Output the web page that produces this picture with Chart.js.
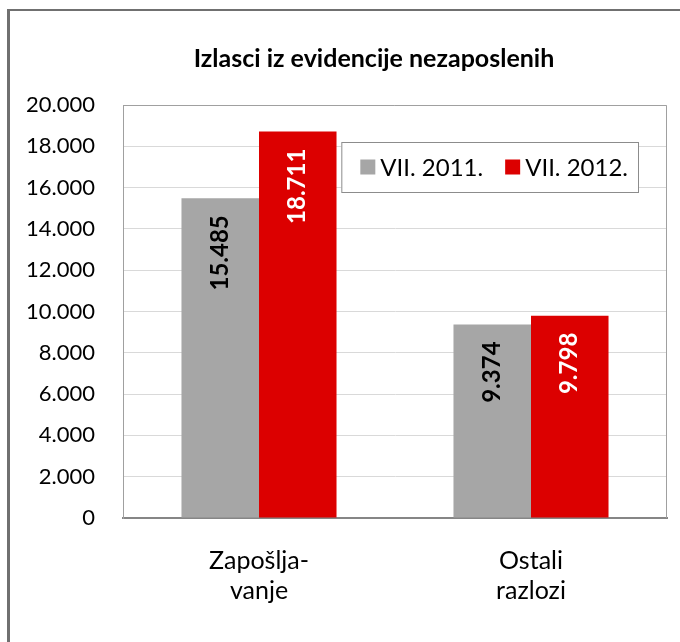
<!DOCTYPE html>
<html>
<head>
<meta charset="utf-8">
<script src="https://cdn.jsdelivr.net/npm/chart.js@4.4.1/dist/chart.umd.min.js"></script>
<style>
  html, body { margin: 0; padding: 0; background: #fff; overflow: hidden; width: 680px; height: 642px; }
  #frame {
    position: absolute; left: 7px; top: 9px;
    width: 720px; height: 700px;
    border-left: 3px solid #707070;
    border-top: 2px solid #707070;
  }
  #wrap { position: absolute; left: 10px; top: 11px; width: 670px; height: 631px; }
</style>
</head>
<body>
<div id="frame"></div>
<div id="wrap"><canvas id="chart"></canvas></div>
<script>
// ===== Data =====
const categories = [['Zapošlja-', 'vanje'], ['Ostali', 'razlozi']];
const seriesNames = ['VII. 2011.', 'VII. 2012.'];
const values2011 = [15485, 9374];
const values2012 = [18711, 9798];
const yTicks = [0, 2000, 4000, 6000, 8000, 10000, 12000, 14000, 16000, 18000, 20000];

const COLORS = ['#a6a6a6', '#dc0000'];
const LABEL_COLORS = ['#000000', '#ffffff'];
const FONT = 'Lato, "Open Sans", sans-serif';

function fmt(v) {
  return String(v).replace(/\B(?=(\d{3})+(?!\d))/g, '.');
}

// ===== Plugins =====
const titlePlugin = {
  id: 'customTitle',
  afterDraw(chart) {
    const ctx = chart.ctx;
    const a = chart.chartArea;
    ctx.save();
    ctx.font = 'bold 25px ' + FONT;
    ctx.fillStyle = '#000';
    ctx.textAlign = 'center';
    ctx.textBaseline = 'middle';
    ctx.fillText('Izlasci iz evidencije nezaposlenih', (a.left + a.right) / 2 - 21, a.top - 46);
    ctx.restore();
  }
};

// plot area outline (top + right)
const plotFrame = {
  id: 'plotFrame',
  beforeDatasetsDraw(chart) {
    const ctx = chart.ctx;
    const a = chart.chartArea;
    ctx.save();
    ctx.strokeStyle = '#a0a0a0';
    ctx.lineWidth = 1;
    ctx.beginPath();
    ctx.moveTo(a.left, a.top + 0.5);
    ctx.lineTo(a.right - 0.5, a.top + 0.5);
    ctx.lineTo(a.right - 0.5, a.bottom);
    ctx.stroke();
    ctx.restore();
  }
};

const barLabels = {
  id: 'barLabels',
  afterDatasetsDraw(chart) {
    const ctx = chart.ctx;
    ctx.save();
    ctx.font = 'bold 24px ' + FONT;
    ctx.textAlign = 'right';
    ctx.textBaseline = 'middle';
    chart.data.datasets.forEach((ds, i) => {
      const meta = chart.getDatasetMeta(i);
      meta.data.forEach((bar, j) => {
        ctx.save();
        ctx.translate(bar.x, bar.y + 17);
        ctx.rotate(-Math.PI / 2);
        ctx.fillStyle = LABEL_COLORS[i];
        ctx.fillText(fmt(ds.data[j]), 0, 0);
        ctx.restore();
      });
    });
    ctx.restore();
  }
};

const legendBox = {
  id: 'legendBox',
  afterDraw(chart) {
    const ctx = chart.ctx;
    const a = chart.chartArea;
    const right = a.right - 29, top = a.top + 37, h = 50;
    ctx.save();
    ctx.font = '24px ' + FONT;
    const sw = 15, gap = 5, itemGap = 22, padL = 19, padR = 10;
    const widths = chart.data.datasets.map(ds => ctx.measureText(ds.label).width);
    let w = padL + padR;
    widths.forEach((tw, i) => { w += sw + gap + tw + (i ? itemGap : 0); });
    const left = right - w;
    ctx.fillStyle = '#fff';
    ctx.fillRect(left, top, w, h);
    ctx.strokeStyle = '#8c8c8c';
    ctx.lineWidth = 1;
    ctx.strokeRect(left + 0.5, top + 0.5, w, h);
    let x = left + padL;
    const cy = top + h / 2;
    ctx.textBaseline = 'middle';
    chart.data.datasets.forEach((ds, i) => {
      if (i) x += itemGap;
      ctx.fillStyle = ds.backgroundColor;
      ctx.fillRect(x, cy - sw / 2, sw, sw);
      x += sw + gap;
      ctx.fillStyle = '#000';
      ctx.fillText(ds.label, x, cy + 1);
      x += widths[i];
    });
    ctx.restore();
  }
};

// ===== Chart =====
new Chart(document.getElementById('chart'), {
  type: 'bar',
  data: {
    labels: categories,
    datasets: [
      { label: seriesNames[0], data: values2011, backgroundColor: COLORS[0] },
      { label: seriesNames[1], data: values2012, backgroundColor: COLORS[1] }
    ]
  },
  options: {
    responsive: true,
    maintainAspectRatio: false,
    animation: false,
    datasets: { bar: { categoryPercentage: 0.57, barPercentage: 1.0 } },
    layout: { padding: { top: 94, right: 13, left: 0, bottom: 0 } },
    plugins: { legend: { display: false }, title: { display: false }, tooltip: { enabled: false } },
    scales: {
      x: {
        grid: { display: false, drawTicks: false },
        border: { color: '#868686', width: 2 },
        ticks: { color: '#000', font: { family: FONT, size: 25, lineHeight: 1.2 }, padding: 28, maxRotation: 0 },
        afterFit(scale) { scale.height = 124; }
      },
      y: {
        min: 0,
        max: 20000,
        afterBuildTicks(scale) { scale.ticks = yTicks.map(v => ({ value: v })); },
        grid: { color: '#d9d9d9', drawTicks: false },
        border: { color: '#a0a0a0', width: 1 },
        ticks: { color: '#000', font: { family: FONT, size: 22 }, padding: 28, callback: v => fmt(v) },
        afterFit(scale) { scale.width = 113; }
      }
    }
  },
  plugins: [plotFrame, titlePlugin, barLabels, legendBox]
});
</script>
</body>
</html>
